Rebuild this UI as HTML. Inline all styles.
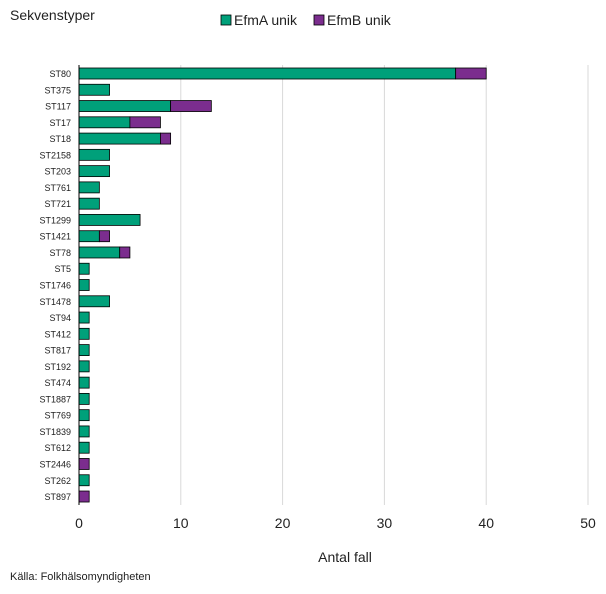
<!DOCTYPE html>
<html><head><meta charset="utf-8"><style>
body{margin:0;background:#fff;font-family:"Liberation Sans","DejaVu Sans",sans-serif;}
</style></head><body>
<svg width="606" height="589" xmlns="http://www.w3.org/2000/svg">
<text x="10" y="20" font-size="14" fill="#222">Sekvenstyper</text>
<g>
<rect x="221" y="15" width="10" height="10" fill="#00a07a" stroke="#000" stroke-width="0.8"/>
<text x="234" y="25" font-size="14" fill="#222">EfmA unik</text>
<rect x="314" y="15" width="10" height="10" fill="#7b2d8e" stroke="#000" stroke-width="0.8"/>
<text x="327" y="25" font-size="14" fill="#222">EfmB unik</text>
</g>
<g id="grid"></g><g id="bars"></g><g id="ylabels"></g><g id="xticks"></g>
<line x1="79" y1="65" x2="79" y2="505" stroke="#000" stroke-width="1"/>
<text x="345" y="562" font-size="14" text-anchor="middle" fill="#222">Antal fall</text>
<text x="10" y="580" font-size="11" fill="#222">Källa:  Folkhälsomyndigheten</text>
</svg>
<script>
const categories=["ST80","ST375","ST117","ST17","ST18","ST2158","ST203","ST761","ST721","ST1299","ST1421","ST78","ST5","ST1746","ST1478","ST94","ST412","ST817","ST192","ST474","ST1887","ST769","ST1839","ST612","ST2446","ST262","ST897"];
const efmA=[37,3,9,5,8,3,3,2,2,6,2,4,1,1,3,1,1,1,1,1,1,1,1,1,0,1,0];
const efmB=[3,0,4,3,1,0,0,0,0,0,1,1,0,0,0,0,0,0,0,0,0,0,0,0,1,0,1];
const xTicks=[0,10,20,30,40,50];
const NS="http://www.w3.org/2000/svg";
const x=v=>79+v*(509/50);
const y=i=>73.5+i*16.27;
function mk(t,a,p){const e=document.createElementNS(NS,t);for(const k in a)e.setAttribute(k,a[k]);p.appendChild(e);return e;}
const grid=document.getElementById('grid'),bars=document.getElementById('bars'),yl=document.getElementById('ylabels'),xt=document.getElementById('xticks');
xTicks.forEach(t=>{
 if(t>0){const g=mk('line',{x1:x(t),x2:x(t),y1:65,y2:505,stroke:'#d9d9d9','stroke-width':1},grid);
 
 }
 const l=mk('text',{x:x(t),y:528,'font-size':14,'text-anchor':'middle',fill:'#222'},xt);l.textContent=t;
 
 
});
categories.forEach((c,i)=>{
 const cy=y(i);
 const lab=mk('text',{x:71,y:cy+3.5,'font-size':9,'text-anchor':'end',fill:'#222'},yl);lab.textContent=c;
 
 
 if(efmA[i]>0){const r=mk('rect',{x:x(0),y:cy-5.5,width:x(efmA[i])-x(0),height:11,fill:'#00a07a',stroke:'#000','stroke-width':0.8},bars);
 
 }
 if(efmB[i]>0){const r=mk('rect',{x:x(efmA[i]),y:cy-5.5,width:x(efmA[i]+efmB[i])-x(efmA[i]),height:11,fill:'#7b2d8e',stroke:'#000','stroke-width':0.8},bars);
 
 }
});
</script>
</body></html>
